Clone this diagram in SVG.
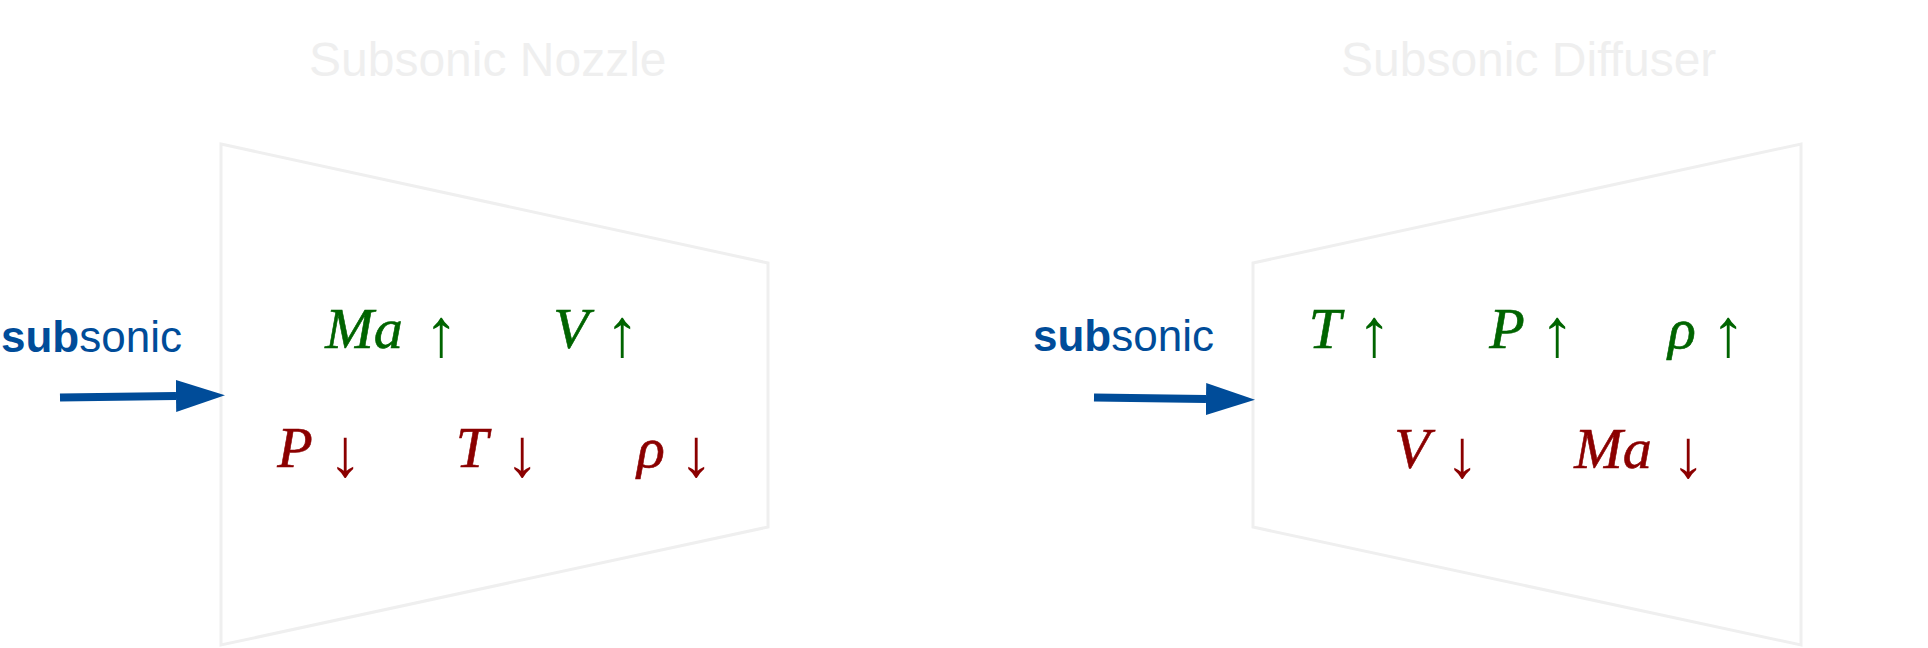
<svg xmlns="http://www.w3.org/2000/svg" width="1928" height="648" viewBox="0 0 1928 648">
<style>
.title{font-family:"Liberation Sans",Arial,sans-serif;font-size:48px;fill:#efefef}
.shape{fill:none;stroke:#efefef;stroke-width:3}
.lbl{font-family:"Liberation Sans",Arial,sans-serif;font-size:44px;fill:#004c99}
.lbl .b{font-weight:bold}
.m{font-family:"Liberation Serif","Times New Roman",serif;font-style:italic;font-size:58px;text-anchor:middle;stroke-width:0.6}
.ar{font-family:"Liberation Serif","Times New Roman",serif;font-size:68px;text-anchor:middle}
.up{fill:#006400;stroke:#006400}
.dn{fill:#8b0000;stroke:#8b0000}
.ar.up,.ar.dn{stroke:none}
.conn{stroke:#004c99;stroke-width:8;fill:none}
</style>
<defs>
<marker id="head" viewBox="0 0 49 32" refX="0" refY="16" markerWidth="49" markerHeight="32" markerUnits="userSpaceOnUse" orient="auto">
<path d="M0,0 L49,16 L0,32 Z" fill="#004c99"/>
</marker>
</defs>
<rect width="1928" height="648" fill="#ffffff"/>
<g id="nozzle">
<text class="title" x="309" y="76">Subsonic Nozzle</text>
<path class="shape" d="M221,144 L768,263 L768,527 L221,645 Z"/>
<text class="m up" x="364" y="348">Ma</text>
<text class="ar up" x="441" y="356">↑</text>
<text class="m up" x="571" y="348">V</text>
<text class="ar up" x="622" y="356">↑</text>
<text class="m dn" x="295" y="467">P</text>
<text class="ar dn" x="345" y="476">↓</text>
<text class="m dn" x="472" y="467">T</text>
<text class="ar dn" x="522" y="476">↓</text>
<text class="m dn" x="651" y="467">ρ</text>
<text class="ar dn" x="696" y="476">↓</text>
</g>
<g id="diffuser">
<text class="title" x="1341" y="76">Subsonic Diffuser</text>
<path class="shape" d="M1253,263 L1801,144 L1801,645 L1253,527 Z"/>
<text class="m up" x="1325" y="348">T</text>
<text class="ar up" x="1374" y="356">↑</text>
<text class="m up" x="1507" y="348">P</text>
<text class="ar up" x="1557" y="356">↑</text>
<text class="m up" x="1682" y="348">ρ</text>
<text class="ar up" x="1728" y="356">↑</text>
<text class="m dn" x="1412" y="468">V</text>
<text class="ar dn" x="1462" y="477">↓</text>
<text class="m dn" x="1613" y="468">Ma</text>
<text class="ar dn" x="1688" y="477">↓</text>
</g>
<g id="label-nozzle">
<text class="lbl" x="1" y="352"><tspan class="b">sub</tspan>sonic</text>
</g>
<g id="label-diffuser">
<text class="lbl" x="1033" y="351"><tspan class="b">sub</tspan>sonic</text>
</g>
<g id="connectors">
<path class="conn" d="M60,397.5 L176,396" marker-end="url(#head)"/>
<path class="conn" d="M1094,397.5 L1206,399" marker-end="url(#head)"/>
</g>
</svg>
